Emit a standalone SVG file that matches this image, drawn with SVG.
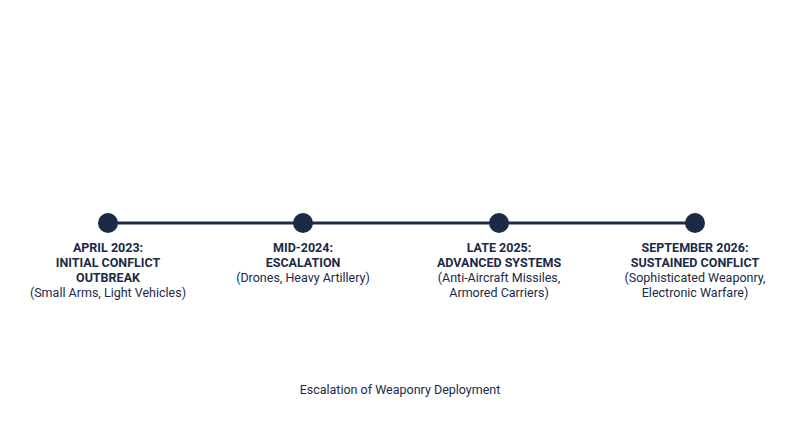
<svg xmlns="http://www.w3.org/2000/svg" width="800" height="447" viewBox="0 0 800 447">
<style>
.t{font-family:Roboto,"Liberation Sans",sans-serif;font-size:12.5px;fill:#1b2a47;text-anchor:middle}
.b{font-weight:bold}
.dot{fill:#1b2a47}
</style>
<rect width="800" height="447" fill="#fff"/>
<g id="connectors"><line x1="108" y1="223" x2="695" y2="223" stroke="#1b2a47" stroke-width="3"/></g>
<g id="n1"><circle class="dot" cx="108" cy="223" r="10"/>
<text class="t b" x="108" y="252">APRIL 2023:</text><text class="t b" x="108" y="267">INITIAL CONFLICT</text><text class="t b" x="108" y="282">OUTBREAK</text><text class="t" x="108" y="297">(Small Arms, Light Vehicles)</text></g>
<g id="n2"><circle class="dot" cx="303" cy="223" r="10"/>
<text class="t b" x="303" y="252">MID-2024:</text><text class="t b" x="303" y="267">ESCALATION</text><text class="t" x="303" y="282">(Drones, Heavy Artillery)</text></g>
<g id="n3"><circle class="dot" cx="499" cy="223" r="10"/>
<text class="t b" x="499" y="252">LATE 2025:</text><text class="t b" x="499" y="267">ADVANCED SYSTEMS</text><text class="t" x="499" y="282">(Anti-Aircraft Missiles,</text><text class="t" x="499" y="297">Armored Carriers)</text></g>
<g id="n4"><circle class="dot" cx="695" cy="223" r="10"/>
<text class="t b" x="695" y="252">SEPTEMBER 2026:</text><text class="t b" x="695" y="267">SUSTAINED CONFLICT</text><text class="t" x="695" y="282">(Sophisticated Weaponry,</text><text class="t" x="695" y="297">Electronic Warfare)</text></g>
<text class="t" x="400" y="394">Escalation of Weaponry Deployment</text>
</svg>
